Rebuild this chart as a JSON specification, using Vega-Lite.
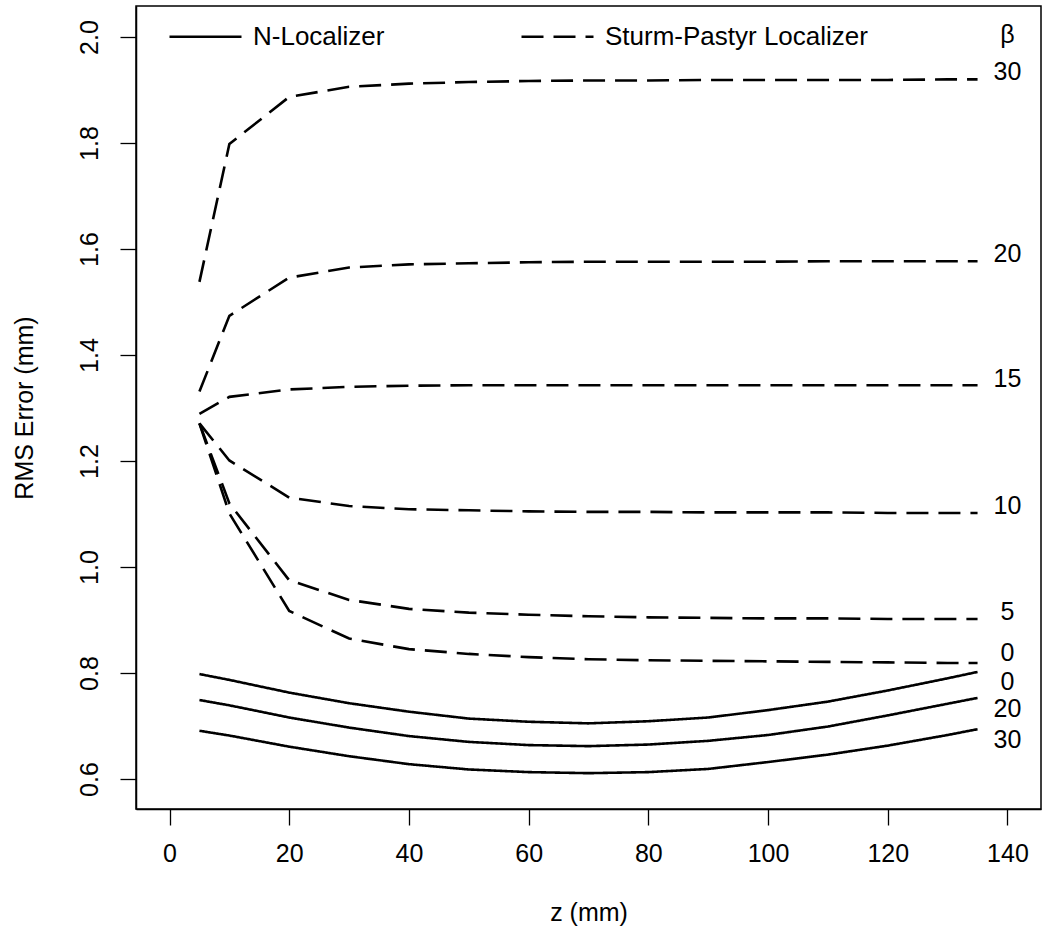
{
  "$schema": "https://vega.github.io/schema/vega-lite/v6.json",
  "width": 905,
  "height": 803,
  "autosize": {"type": "none"},
  "padding": {"left": 136, "top": 6, "right": 6, "bottom": 122},
  "background": "white",
  "config": {
    "view": {"stroke": "black", "strokeWidth": 1.5},
    "font": "Liberation Sans",
    "axis": {"grid": false, "domainColor": "black", "domainWidth": 1.5, "tickColor": "black", "tickWidth": 1.3, "tickSize": 16, "labelColor": "black", "titleColor": "black", "labelFont": "Liberation Sans", "titleFont": "Liberation Sans", "labelFontSize": 25, "titleFontSize": 25, "titleFontWeight": "normal"}
  },
  "datasets": {
    "curves": [
      {"s":"N-Localizer","b":0,"z":5,"rms":0.798},{"s":"N-Localizer","b":0,"z":10,"rms":0.787},{"s":"N-Localizer","b":0,"z":20,"rms":0.763},{"s":"N-Localizer","b":0,"z":30,"rms":0.743},{"s":"N-Localizer","b":0,"z":40,"rms":0.727},{"s":"N-Localizer","b":0,"z":50,"rms":0.714},{"s":"N-Localizer","b":0,"z":60,"rms":0.708},{"s":"N-Localizer","b":0,"z":70,"rms":0.705},{"s":"N-Localizer","b":0,"z":80,"rms":0.709},{"s":"N-Localizer","b":0,"z":90,"rms":0.716},{"s":"N-Localizer","b":0,"z":100,"rms":0.730},{"s":"N-Localizer","b":0,"z":110,"rms":0.746},{"s":"N-Localizer","b":0,"z":120,"rms":0.767},{"s":"N-Localizer","b":0,"z":130,"rms":0.790},{"s":"N-Localizer","b":0,"z":135,"rms":0.802},
      {"s":"N-Localizer","b":20,"z":5,"rms":0.749},{"s":"N-Localizer","b":20,"z":10,"rms":0.739},{"s":"N-Localizer","b":20,"z":20,"rms":0.716},{"s":"N-Localizer","b":20,"z":30,"rms":0.697},{"s":"N-Localizer","b":20,"z":40,"rms":0.681},{"s":"N-Localizer","b":20,"z":50,"rms":0.670},{"s":"N-Localizer","b":20,"z":60,"rms":0.664},{"s":"N-Localizer","b":20,"z":70,"rms":0.662},{"s":"N-Localizer","b":20,"z":80,"rms":0.665},{"s":"N-Localizer","b":20,"z":90,"rms":0.672},{"s":"N-Localizer","b":20,"z":100,"rms":0.683},{"s":"N-Localizer","b":20,"z":110,"rms":0.699},{"s":"N-Localizer","b":20,"z":120,"rms":0.720},{"s":"N-Localizer","b":20,"z":130,"rms":0.742},{"s":"N-Localizer","b":20,"z":135,"rms":0.753},
      {"s":"N-Localizer","b":30,"z":5,"rms":0.691},{"s":"N-Localizer","b":30,"z":10,"rms":0.682},{"s":"N-Localizer","b":30,"z":20,"rms":0.661},{"s":"N-Localizer","b":30,"z":30,"rms":0.643},{"s":"N-Localizer","b":30,"z":40,"rms":0.628},{"s":"N-Localizer","b":30,"z":50,"rms":0.618},{"s":"N-Localizer","b":30,"z":60,"rms":0.613},{"s":"N-Localizer","b":30,"z":70,"rms":0.611},{"s":"N-Localizer","b":30,"z":80,"rms":0.613},{"s":"N-Localizer","b":30,"z":90,"rms":0.619},{"s":"N-Localizer","b":30,"z":100,"rms":0.632},{"s":"N-Localizer","b":30,"z":110,"rms":0.646},{"s":"N-Localizer","b":30,"z":120,"rms":0.663},{"s":"N-Localizer","b":30,"z":130,"rms":0.683},{"s":"N-Localizer","b":30,"z":135,"rms":0.694},
      {"s":"Sturm-Pastyr Localizer","b":30,"z":5,"rms":1.538},{"s":"Sturm-Pastyr Localizer","b":30,"z":10,"rms":1.798},{"s":"Sturm-Pastyr Localizer","b":30,"z":20,"rms":1.887},{"s":"Sturm-Pastyr Localizer","b":30,"z":30,"rms":1.906},{"s":"Sturm-Pastyr Localizer","b":30,"z":40,"rms":1.912},{"s":"Sturm-Pastyr Localizer","b":30,"z":50,"rms":1.915},{"s":"Sturm-Pastyr Localizer","b":30,"z":60,"rms":1.917},{"s":"Sturm-Pastyr Localizer","b":30,"z":70,"rms":1.918},{"s":"Sturm-Pastyr Localizer","b":30,"z":80,"rms":1.918},{"s":"Sturm-Pastyr Localizer","b":30,"z":90,"rms":1.919},{"s":"Sturm-Pastyr Localizer","b":30,"z":100,"rms":1.919},{"s":"Sturm-Pastyr Localizer","b":30,"z":110,"rms":1.919},{"s":"Sturm-Pastyr Localizer","b":30,"z":120,"rms":1.919},{"s":"Sturm-Pastyr Localizer","b":30,"z":130,"rms":1.920},{"s":"Sturm-Pastyr Localizer","b":30,"z":135,"rms":1.920},
      {"s":"Sturm-Pastyr Localizer","b":20,"z":5,"rms":1.331},{"s":"Sturm-Pastyr Localizer","b":20,"z":10,"rms":1.474},{"s":"Sturm-Pastyr Localizer","b":20,"z":20,"rms":1.546},{"s":"Sturm-Pastyr Localizer","b":20,"z":30,"rms":1.565},{"s":"Sturm-Pastyr Localizer","b":20,"z":40,"rms":1.571},{"s":"Sturm-Pastyr Localizer","b":20,"z":50,"rms":1.573},{"s":"Sturm-Pastyr Localizer","b":20,"z":60,"rms":1.575},{"s":"Sturm-Pastyr Localizer","b":20,"z":70,"rms":1.576},{"s":"Sturm-Pastyr Localizer","b":20,"z":80,"rms":1.576},{"s":"Sturm-Pastyr Localizer","b":20,"z":90,"rms":1.576},{"s":"Sturm-Pastyr Localizer","b":20,"z":100,"rms":1.576},{"s":"Sturm-Pastyr Localizer","b":20,"z":110,"rms":1.577},{"s":"Sturm-Pastyr Localizer","b":20,"z":120,"rms":1.577},{"s":"Sturm-Pastyr Localizer","b":20,"z":130,"rms":1.577},{"s":"Sturm-Pastyr Localizer","b":20,"z":135,"rms":1.577},
      {"s":"Sturm-Pastyr Localizer","b":15,"z":5,"rms":1.289},{"s":"Sturm-Pastyr Localizer","b":15,"z":10,"rms":1.321},{"s":"Sturm-Pastyr Localizer","b":15,"z":20,"rms":1.335},{"s":"Sturm-Pastyr Localizer","b":15,"z":30,"rms":1.340},{"s":"Sturm-Pastyr Localizer","b":15,"z":40,"rms":1.342},{"s":"Sturm-Pastyr Localizer","b":15,"z":50,"rms":1.343},{"s":"Sturm-Pastyr Localizer","b":15,"z":60,"rms":1.343},{"s":"Sturm-Pastyr Localizer","b":15,"z":70,"rms":1.343},{"s":"Sturm-Pastyr Localizer","b":15,"z":80,"rms":1.343},{"s":"Sturm-Pastyr Localizer","b":15,"z":90,"rms":1.343},{"s":"Sturm-Pastyr Localizer","b":15,"z":100,"rms":1.343},{"s":"Sturm-Pastyr Localizer","b":15,"z":110,"rms":1.343},{"s":"Sturm-Pastyr Localizer","b":15,"z":120,"rms":1.343},{"s":"Sturm-Pastyr Localizer","b":15,"z":130,"rms":1.343},{"s":"Sturm-Pastyr Localizer","b":15,"z":135,"rms":1.343},
      {"s":"Sturm-Pastyr Localizer","b":10,"z":5,"rms":1.271},{"s":"Sturm-Pastyr Localizer","b":10,"z":10,"rms":1.201},{"s":"Sturm-Pastyr Localizer","b":10,"z":20,"rms":1.131},{"s":"Sturm-Pastyr Localizer","b":10,"z":30,"rms":1.115},{"s":"Sturm-Pastyr Localizer","b":10,"z":40,"rms":1.109},{"s":"Sturm-Pastyr Localizer","b":10,"z":50,"rms":1.107},{"s":"Sturm-Pastyr Localizer","b":10,"z":60,"rms":1.105},{"s":"Sturm-Pastyr Localizer","b":10,"z":70,"rms":1.104},{"s":"Sturm-Pastyr Localizer","b":10,"z":80,"rms":1.104},{"s":"Sturm-Pastyr Localizer","b":10,"z":90,"rms":1.103},{"s":"Sturm-Pastyr Localizer","b":10,"z":100,"rms":1.103},{"s":"Sturm-Pastyr Localizer","b":10,"z":110,"rms":1.103},{"s":"Sturm-Pastyr Localizer","b":10,"z":120,"rms":1.102},{"s":"Sturm-Pastyr Localizer","b":10,"z":130,"rms":1.102},{"s":"Sturm-Pastyr Localizer","b":10,"z":135,"rms":1.102},
      {"s":"Sturm-Pastyr Localizer","b":5,"z":5,"rms":1.271},{"s":"Sturm-Pastyr Localizer","b":5,"z":10,"rms":1.120},{"s":"Sturm-Pastyr Localizer","b":5,"z":20,"rms":0.975},{"s":"Sturm-Pastyr Localizer","b":5,"z":30,"rms":0.938},{"s":"Sturm-Pastyr Localizer","b":5,"z":40,"rms":0.921},{"s":"Sturm-Pastyr Localizer","b":5,"z":50,"rms":0.914},{"s":"Sturm-Pastyr Localizer","b":5,"z":60,"rms":0.910},{"s":"Sturm-Pastyr Localizer","b":5,"z":70,"rms":0.907},{"s":"Sturm-Pastyr Localizer","b":5,"z":80,"rms":0.905},{"s":"Sturm-Pastyr Localizer","b":5,"z":90,"rms":0.904},{"s":"Sturm-Pastyr Localizer","b":5,"z":100,"rms":0.903},{"s":"Sturm-Pastyr Localizer","b":5,"z":110,"rms":0.903},{"s":"Sturm-Pastyr Localizer","b":5,"z":120,"rms":0.902},{"s":"Sturm-Pastyr Localizer","b":5,"z":130,"rms":0.902},{"s":"Sturm-Pastyr Localizer","b":5,"z":135,"rms":0.902},
      {"s":"Sturm-Pastyr Localizer","b":0,"z":5,"rms":1.271},{"s":"Sturm-Pastyr Localizer","b":0,"z":10,"rms":1.101},{"s":"Sturm-Pastyr Localizer","b":0,"z":20,"rms":0.917},{"s":"Sturm-Pastyr Localizer","b":0,"z":30,"rms":0.865},{"s":"Sturm-Pastyr Localizer","b":0,"z":40,"rms":0.845},{"s":"Sturm-Pastyr Localizer","b":0,"z":50,"rms":0.836},{"s":"Sturm-Pastyr Localizer","b":0,"z":60,"rms":0.830},{"s":"Sturm-Pastyr Localizer","b":0,"z":70,"rms":0.826},{"s":"Sturm-Pastyr Localizer","b":0,"z":80,"rms":0.824},{"s":"Sturm-Pastyr Localizer","b":0,"z":90,"rms":0.823},{"s":"Sturm-Pastyr Localizer","b":0,"z":100,"rms":0.822},{"s":"Sturm-Pastyr Localizer","b":0,"z":110,"rms":0.821},{"s":"Sturm-Pastyr Localizer","b":0,"z":120,"rms":0.820},{"s":"Sturm-Pastyr Localizer","b":0,"z":130,"rms":0.819},{"s":"Sturm-Pastyr Localizer","b":0,"z":135,"rms":0.819}
    ],
    "labels": [
      {"label":"β","z":140,"y":2.004},
      {"label":"30","z":140,"y":1.934},
      {"label":"20","z":140,"y":1.591},
      {"label":"15","z":140,"y":1.355},
      {"label":"10","z":140,"y":1.115},
      {"label":"5","z":140,"y":0.915},
      {"label":"0","z":140,"y":0.838},
      {"label":"0","z":140,"y":0.783},
      {"label":"20","z":140,"y":0.732},
      {"label":"30","z":140,"y":0.674}
    ]
  },
  "layer": [
    {
      "data": {"name": "curves"},
      "mark": {"type": "line", "color": "black", "strokeWidth": 2.6, "clip": true},
      "encoding": {
        "x": {"field": "z", "type": "quantitative", "scale": {"domain": [-5.6, 145.6], "nice": false, "zero": false},
          "axis": {"values": [0, 20, 40, 60, 80, 100, 120, 140], "title": "z (mm)", "labelPadding": 16, "titlePadding": 34}},
        "y": {"field": "rms", "type": "quantitative", "scale": {"domain": [0.5434, 2.0585], "nice": false, "zero": false},
          "axis": {"values": [0.6, 0.8, 1.0, 1.2, 1.4, 1.6, 1.8, 2.0], "format": ".1f", "labelAngle": -90, "labelPadding": 18, "title": "RMS Error (mm)", "titlePadding": 40}},
        "strokeDash": {"field": "s", "type": "nominal",
          "scale": {"domain": ["N-Localizer", "Sturm-Pastyr Localizer"], "range": [[1, 0], [22, 10]]},
          "legend": {"orient": "none", "legendX": 32, "legendY": -7, "direction": "horizontal", "title": null, "symbolType": "stroke", "symbolSize": 5184, "symbolStrokeWidth": 2.6, "symbolStrokeColor": "black", "labelFont": "Liberation Sans", "labelFontSize": 26, "labelColor": "black", "labelOffset": 10, "labelLimit": 500, "columnPadding": 131, "padding": 0,
            "encode": {"symbols": {"update": {"strokeDash": {"signal": "datum.value === 'N-Localizer' ? [1, 0] : [18, 7]"}}}}}},
        "detail": [{"field": "s", "type": "nominal"}, {"field": "b", "type": "quantitative"}],
        "order": {"field": "z", "type": "quantitative"}
      }
    },
    {
      "data": {"name": "labels"},
      "mark": {"type": "text", "color": "black", "fontSize": 25, "font": "Liberation Sans", "align": "center", "baseline": "middle"},
      "encoding": {
        "x": {"field": "z", "type": "quantitative"},
        "y": {"field": "y", "type": "quantitative"},
        "text": {"field": "label", "type": "nominal"}
      }
    }
  ]
}
